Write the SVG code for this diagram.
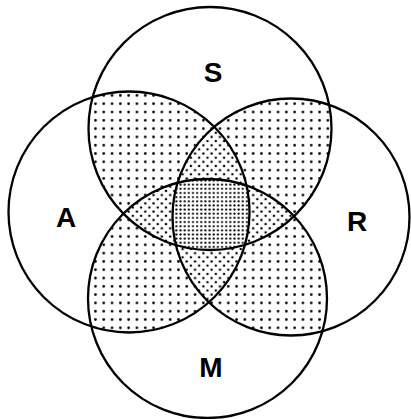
<svg xmlns="http://www.w3.org/2000/svg" width="411" height="419" viewBox="0 0 411 419">
<style>
.ring{fill:none;stroke:#000;stroke-width:2.3}
.lbl{font-family:"Liberation Sans",Arial,sans-serif;font-weight:bold;font-size:28px;text-anchor:middle;fill:#000}
</style>
<defs>
<pattern id="p2" patternUnits="userSpaceOnUse" width="8.3" height="8.3">
<rect width="8.3" height="8.3" fill="#fff"/>
<circle cx="4.15" cy="4.15" r="1.35" fill="#000"/>
</pattern>
<pattern id="p3" patternUnits="userSpaceOnUse" width="8.3" height="8.3">
<rect width="8.3" height="8.3" fill="#fff"/>
<circle cx="4.15" cy="4.15" r="1.25" fill="#000"/>
<circle cx="0" cy="0" r="1.25" fill="#000"/>
<circle cx="8.3" cy="0" r="1.25" fill="#000"/>
<circle cx="0" cy="8.3" r="1.25" fill="#000"/>
<circle cx="8.3" cy="8.3" r="1.25" fill="#000"/>
</pattern>
<pattern id="p4" patternUnits="userSpaceOnUse" width="4.15" height="4.15">
<rect width="4.15" height="4.15" fill="#fff"/>
<circle cx="2.075" cy="2.075" r="1.1" fill="#000"/>
</pattern>
<clipPath id="cS"><circle cx="210" cy="128.5" r="121.5"/></clipPath>
<clipPath id="cA"><circle cx="129" cy="212" r="120.5"/></clipPath>
<clipPath id="cR"><circle cx="291" cy="217" r="118.5"/></clipPath>
<clipPath id="cM"><circle cx="207.5" cy="298.5" r="119.5"/></clipPath>
</defs>
<g id="shading">
<g clip-path="url(#cA)"><circle cx="210" cy="128.5" r="121.5" fill="url(#p2)"/><circle cx="207.5" cy="298.5" r="119.5" fill="url(#p2)"/></g>
<g clip-path="url(#cR)"><circle cx="210" cy="128.5" r="121.5" fill="url(#p2)"/><circle cx="207.5" cy="298.5" r="119.5" fill="url(#p2)"/></g>
<g clip-path="url(#cS)"><g clip-path="url(#cA)"><circle cx="291" cy="217" r="118.5" fill="url(#p3)"/><circle cx="207.5" cy="298.5" r="119.5" fill="url(#p3)"/></g></g>
<g clip-path="url(#cM)"><g clip-path="url(#cR)"><circle cx="210" cy="128.5" r="121.5" fill="url(#p3)"/><circle cx="129" cy="212" r="120.5" fill="url(#p3)"/></g></g>
<g clip-path="url(#cS)"><g clip-path="url(#cA)"><g clip-path="url(#cR)"><circle cx="207.5" cy="298.5" r="119.5" fill="url(#p4)"/></g></g></g>
</g>
<g id="S"><circle class="ring" cx="210" cy="128.5" r="121.5"/><text class="lbl" x="213" y="82">S</text></g>
<g id="A"><circle class="ring" cx="129" cy="212" r="120.5"/><text class="lbl" x="66" y="227">A</text></g>
<g id="R"><circle class="ring" cx="291" cy="217" r="118.5"/><text class="lbl" x="357" y="231">R</text></g>
<g id="M"><circle class="ring" cx="207.5" cy="298.5" r="119.5"/><text class="lbl" x="211" y="377">M</text></g>
</svg>
